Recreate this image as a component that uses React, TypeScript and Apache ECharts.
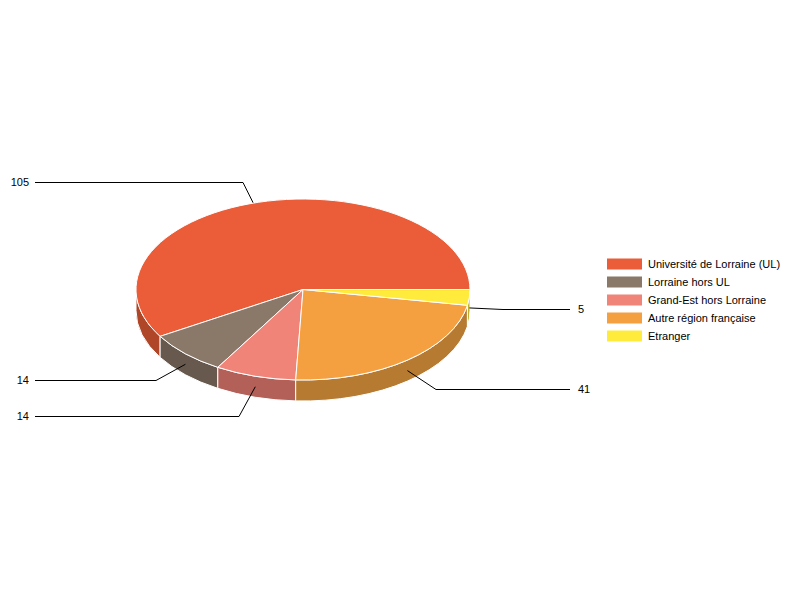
import React, { useEffect, useRef } from "react";
import * as echarts from "echarts";

const categories = ["Université de Lorraine (UL)", "Lorraine hors UL", "Grand-Est hors Lorraine", "Autre région française", "Etranger"];
const values = [105, 14, 14, 41, 5];
const topColors = ["#EA5D38", "#8A7969", "#F08478", "#F4A040", "#FFEB3B"];
const sideColors = ["#B04628", "#67594D", "#B26058", "#B77A31", "#BFB02C"];
// Leader line routing per slice: elbow x, elbow y, end x, label x
const leaderElbowX = [243, 156, 239, 436, 503];
const leaderElbowY = [182.5, 380.5, 416.5, 389.5, 309.5];
const leaderEndX = [35, 35, 35, 570, 570];
const labelX = [29, 29, 29, 578, 578];

const CX = 303;
const CY = 289.5;
const RX = 167;
const RY = 90.5;
const DEPTH = 21;

const total = values.reduce((a, b) => a + b, 0);
// Slices run counter-clockwise from 3 o'clock, in data order.
const startAngles: number[] = [];
values.reduce((acc, v, i) => {
  startAngles[i] = acc;
  return acc + (v / total) * Math.PI * 2;
}, 0);

const pt = (a: number, dy = 0): [number, number] => [CX + RX * Math.cos(a), CY - RY * Math.sin(a) + dy];

function topPath(a0: number, a1: number) {
  const [x0, y0] = pt(a0);
  const [x1, y1] = pt(a1);
  const large = a1 - a0 > Math.PI ? 1 : 0;
  return `M${CX} ${CY}L${x0} ${y0}A${RX} ${RY} 0 ${large} 0 ${x1} ${y1}Z`;
}

// Outer wall: only the part of the slice in the front half of the ellipse.
function sidePath(a0: number, a1: number) {
  const parts: string[] = [];
  for (const k of [-1, 0, 1]) {
    const lo = Math.max(a0, Math.PI + k * 2 * Math.PI);
    const hi = Math.min(a1, 2 * Math.PI + k * 2 * Math.PI);
    if (hi > lo) {
      const [x0, y0] = pt(lo);
      const [x1, y1] = pt(hi);
      const [x2, y2] = pt(hi, DEPTH);
      const [x3, y3] = pt(lo, DEPTH);
      parts.push(`M${x0} ${y0}A${RX} ${RY} 0 0 0 ${x1} ${y1}L${x2} ${y2}A${RX} ${RY} 0 0 1 ${x3} ${y3}Z`);
    }
  }
  return parts.join("");
}

function renderSlice(i: number) {
  return () => {
    const a0 = startAngles[i];
    const a1 = a0 + (values[i] / total) * Math.PI * 2;
    const mid = (a0 + a1) / 2;
    const [sx, sy] = pt(mid, DEPTH / 2);
    const right = leaderEndX[i] > CX;
    const children: any[] = [];
    const side = sidePath(a0, a1);
    if (side) {
      children.push({
        type: "path",
        z2: 1,
        shape: { pathData: side },
        style: { fill: sideColors[i], stroke: "#ffffff", lineWidth: 1 },
      });
    }
    children.push({
      type: "polyline",
      z2: 2,
      shape: { points: [[sx, sy], [leaderElbowX[i], leaderElbowY[i]], [leaderEndX[i], leaderElbowY[i]]] },
      style: { fill: "none", stroke: "#000000", lineWidth: 1 },
    });
    children.push({
      type: "path",
      z2: 3,
      shape: { pathData: topPath(a0, a1) },
      style: { fill: topColors[i], stroke: "#ffffff", lineWidth: 1, lineJoin: "round" },
    });
    children.push({
      type: "text",
      z2: 4,
      style: {
        x: labelX[i],
        y: leaderElbowY[i] - 0.5,
        text: String(values[i]),
        fill: "#000000",
        font: "11px 'Liberation Sans', Arial, sans-serif",
        align: right ? "left" : "right",
        verticalAlign: "middle",
      },
    });
    return { type: "group", children };
  };
}

export default function App() {
  const ref = useRef<HTMLDivElement>(null);
  useEffect(() => {
    const chart = echarts.init(ref.current!, undefined, { renderer: "svg" });
    chart.setOption({
      animation: false,
      backgroundColor: "#ffffff",
      legend: {
        orient: "vertical",
        left: 607,
        top: 258.5,
        itemWidth: 35,
        itemHeight: 11,
        itemGap: 7,
        icon: "rect",
        selectedMode: false,
        textStyle: { fontFamily: "'Liberation Sans', Arial, sans-serif", fontSize: 11, color: "#000000", padding: [0, 0, 0, 1], lineHeight: 11 },
        padding: 0,
        data: categories,
      },
      series: categories.map((name, i) => ({
        type: "custom",
        name,
        coordinateSystem: "none",
        silent: true,
        itemStyle: { color: topColors[i] },
        data: [values[i]],
        renderItem: renderSlice(i),
      })),
    });
    return () => chart.dispose();
  }, []);
  return <div ref={ref} style={{ position: "absolute", left: 0, top: 0, width: 800, height: 600 }} />;
}
